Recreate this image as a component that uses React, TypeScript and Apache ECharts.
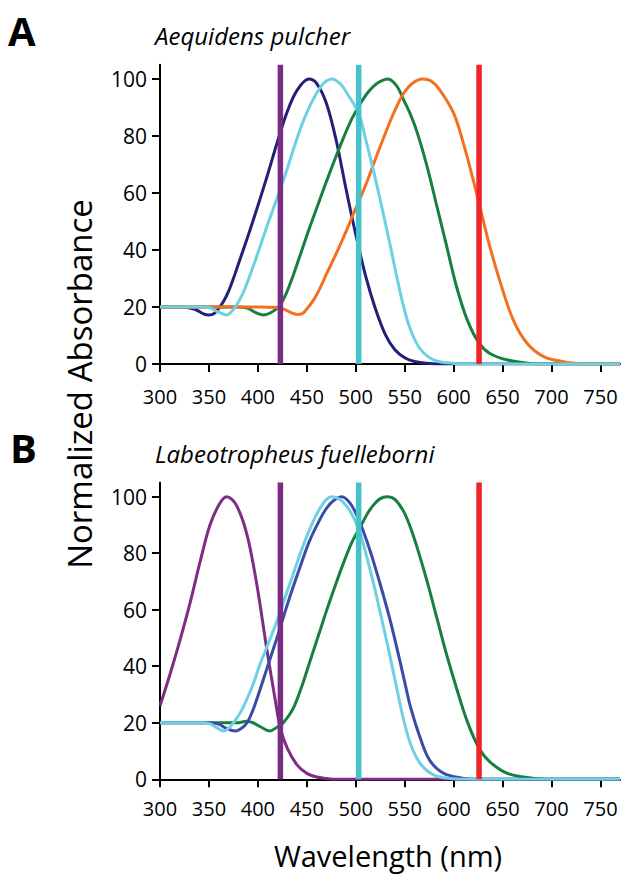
import React, { useEffect, useRef } from "react";
import * as echarts from "echarts";

// ---------- data (wavelength nm, normalized absorbance) ----------
const xTicks = [300, 350, 400, 450, 500, 550, 600, 650, 700, 750];
const yTicks = [0, 20, 40, 60, 80, 100];
const markerWavelengths = [423, 503, 626];
const markerColors = ["#7B2D86", "#45C2C9", "#EE2228"];

// Panel A: Aequidens pulcher
const navyA: number[][] = [
  [300, 20], [320, 20], [335, 19.3], [345, 17.5], [350, 17.2], [355, 17.6], [360, 19.5], [365, 22],
  [370, 25.5], [375, 30], [380, 35], [390, 45], [400, 55.5], [410, 66.5], [420, 78], [430, 88.5],
  [440, 96], [452, 100], [460, 98.5], [470, 91.5], [480, 78.5], [490, 61.5], [500, 45.5], [510, 31],
  [520, 19.5], [530, 10.5], [540, 5], [550, 2.2], [560, 0.9], [575, 0.2], [590, 0], [770, 0],
];
const cyanA: number[][] = [
  [300, 20], [340, 20], [350, 19.8], [358, 18.5], [368, 17.2], [372, 18], [377, 20], [385, 25],
  [395, 34], [402, 41], [410, 49], [419, 57.6], [430, 68.5], [436, 75], [445, 84], [453, 90.5],
  [460, 95], [467, 98.5], [476, 100], [485, 98], [491, 95], [503, 88], [510, 79], [518, 68], [526, 56],
  [535, 42], [542, 30.5], [549, 20], [556, 12], [566, 5.2], [580, 1.4], [600, 0.2], [610, 0], [770, 0],
];
const greenA: number[][] = [
  [300, 20], [380, 20], [390, 19.5], [398, 18], [406, 17.2], [413, 18], [421, 20], [428, 24],
  [436, 31], [445, 40], [453, 48], [462, 56.5], [470, 64], [480, 73], [488, 79.8], [496, 86],
  [505, 91.5], [513, 95.5], [522, 98.5], [533, 100], [542, 97.5], [549, 92.6], [556, 87.5], [563, 81],
  [573, 69.2], [583, 55.2], [593, 41.2], [603, 27.1], [614, 15.4], [626, 7.3], [637, 3.7], [655, 1.4],
  [678, 0.2], [690, 0], [770, 0],
];
const orangeA: number[][] = [
  [300, 20], [400, 20], [420, 19.8], [428, 19], [434, 18], [440, 17.4], [445, 17.6], [450, 19.3],
  [457, 22.5], [464, 27], [470, 31.5], [477, 36.5], [485, 42.5], [492, 48], [498, 53], [505, 58.5],
  [511, 63.5], [518, 70], [525, 76.3], [535, 85], [542, 90.5], [549, 95], [558, 98.5], [568, 100],
  [577, 99.3], [586, 96.1], [600, 88], [610, 77.4], [620, 64.6], [627, 55], [637, 41.2], [648, 28.3],
  [661, 15.4], [675, 7.3], [692, 2.6], [712, 0.8], [726, 0.2], [740, 0], [770, 0],
];

// Panel B: Labeotropheus fuelleborni
const purpleB: number[][] = [
  [300, 26], [310, 36.9], [320, 48.7], [331, 62.8], [341, 77], [351, 89.9], [361, 97.6], [368, 100],
  [378, 97], [389, 86.4], [399, 68.7], [409, 46.3], [418, 27.5], [423, 18], [430, 11], [440, 5.1],
  [450, 2.1], [460, 0.8], [470, 0.3], [480, 0], [770, 0],
];
const greenB: number[][] = [
  [300, 20], [380, 20], [388, 20.5], [395, 20], [403, 18.5], [412, 17.1], [420, 18.5], [426, 20],
  [436, 25], [445, 33], [453, 41.5], [462, 51], [470, 59.5], [479, 68.5], [488, 77], [496, 83.8],
  [505, 89.5], [512, 94], [518, 97], [525, 99.3], [532, 100], [540, 99], [549, 94.7], [556, 89],
  [563, 81.7], [573, 69.9], [583, 56.9], [593, 43.9], [603, 32.2], [614, 20.4], [626, 11], [637, 6.2],
  [655, 2.1], [682, 0.3], [695, 0], [770, 0],
];
const blueB: number[][] = [
  [300, 20], [350, 20], [360, 19.5], [368, 18], [377, 17.1], [383, 18], [389, 20], [395, 24.5],
  [402, 31.5], [410, 40], [419, 49.5], [428, 59.5], [436, 68], [445, 77], [453, 84.5], [462, 91],
  [470, 95.8], [478, 98.8], [486, 100], [494, 97.8], [501, 93.5], [508, 87.5], [515, 80.5], [525, 69],
  [535, 56.5], [542, 46.5], [549, 36], [556, 25.5], [566, 14.5], [576, 6.5], [590, 2.1], [610, 0.3],
  [620, 0], [770, 0],
];
const cyanB: number[][] = [
  [300, 20], [345, 20], [352, 19.5], [358, 18.3], [365, 17.1], [370, 18], [375, 20], [382, 23.5],
  [389, 28.5], [395, 33.5], [402, 40.5], [410, 47.5], [419, 55.5], [427, 63.5], [436, 72.5], [445, 81.5],
  [453, 88.5], [462, 95], [470, 99], [476, 100], [484, 99], [491, 96.5], [498, 92.5], [505, 86.5],
  [511, 79], [518, 69.5], [526, 57.5], [535, 43.5], [542, 32], [549, 21], [556, 12.5], [566, 5.5],
  [580, 1.5], [597, 0.3], [610, 0], [770, 0],
];

const FONT = "'Open Sans', 'Noto Sans', sans-serif";

function curve(name: string, data: number[][], color: string, idx: number, z: number) {
  return {
    name,
    type: "line",
    xAxisIndex: idx,
    yAxisIndex: idx,
    data,
    showSymbol: false,
    smooth: 0.35,
    lineStyle: { color, width: 3 },
    z,
    silent: true,
  };
}

function markers(idx: number) {
  return markerWavelengths.map((w, i) => ({
    name: "marker" + idx + "_" + i,
    type: "line",
    xAxisIndex: idx,
    yAxisIndex: idx,
    data: [[w, 0], [w, 105]],
    showSymbol: false,
    lineStyle: { color: markerColors[i], width: 5.5 },
    z: 10,
    silent: true,
  }));
}

function xAxis(idx: number, margin: number) {
  return {
    type: "value",
    gridIndex: idx,
    min: 300,
    max: 770,
    interval: 50,
    axisLine: { show: true, onZero: false, lineStyle: { color: "#000", width: 2 } },
    axisTick: { show: true, length: 8, customValues: xTicks, lineStyle: { color: "#000", width: 2 } },
    axisLabel: { customValues: xTicks, fontSize: 20, color: "#000", fontFamily: FONT, margin },
    splitLine: { show: false },
  };
}

function yAxis(idx: number) {
  return {
    type: "value",
    gridIndex: idx,
    min: 0,
    max: 105,
    axisLine: { show: true, lineStyle: { color: "#000", width: 2 } },
    axisTick: { show: true, length: 8, customValues: yTicks, lineStyle: { color: "#000", width: 2 } },
    axisLabel: { customValues: yTicks, fontSize: 21, color: "#000", fontFamily: FONT, margin: 13 },
    splitLine: { show: false },
  };
}

export default function App() {
  const ref = useRef<HTMLDivElement>(null);
  useEffect(() => {
    if (!ref.current) return;
    const chart = echarts.init(ref.current, null, { renderer: "svg" });
    chart.setOption({
      animation: false,
      backgroundColor: "#fff",
      grid: [
        { left: 160, top: 64.75, width: 460, height: 299.25 },
        { left: 160, top: 482.5, width: 460, height: 296.8 },
      ],
      xAxis: [xAxis(0, 22), xAxis(1, 19)],
      yAxis: [yAxis(0), yAxis(1)],
      series: [
        curve("navyA", navyA, "#232079", 0, 2),
        curve("greenA", greenA, "#17803F", 0, 3),
        curve("orangeA", orangeA, "#F37021", 0, 4),
        curve("cyanA", cyanA, "#6ED0E2", 0, 5),
        ...markers(0),
        curve("purpleB", purpleB, "#7E2C86", 1, 2),
        curve("greenB", greenB, "#17803F", 1, 3),
        curve("blueB", blueB, "#3B4CA6", 1, 4),
        curve("cyanB", cyanB, "#6ED0E2", 1, 5),
        ...markers(1),
      ],
      graphic: [
        { type: "text", left: 8, top: 10, style: { text: "A", font: `bold 40px ${FONT}`, fill: "#000" } },
        { type: "text", left: 10, top: 427, style: { text: "B", font: `bold 40px ${FONT}`, fill: "#000" } },
        {
          type: "text", x: 155, y: 35.5,
          style: { text: "Aequidens pulcher", font: `italic 24px ${FONT}`, fill: "#000", verticalAlign: "middle" },
        },
        {
          type: "text", x: 155, y: 453,
          style: { text: "Labeotropheus fuelleborni", font: `italic 24px ${FONT}`, fill: "#000", verticalAlign: "middle" },
        },
        {
          type: "text", x: 79, y: 384, rotation: Math.PI / 2,
          style: { text: "Normalized Absorbance", font: `33px ${FONT}`, fill: "#000", align: "center", verticalAlign: "middle" },
        },
        {
          type: "text", x: 388, y: 855,
          style: { text: "Wavelength (nm)", font: `29px ${FONT}`, fill: "#000", align: "center", verticalAlign: "middle" },
        },
      ],
    });
    return () => chart.dispose();
  }, []);
  return (
    <div
      ref={ref}
      style={{ position: "absolute", left: 0, top: 0, width: 630, height: 881, background: "#fff" }}
    />
  );
}
